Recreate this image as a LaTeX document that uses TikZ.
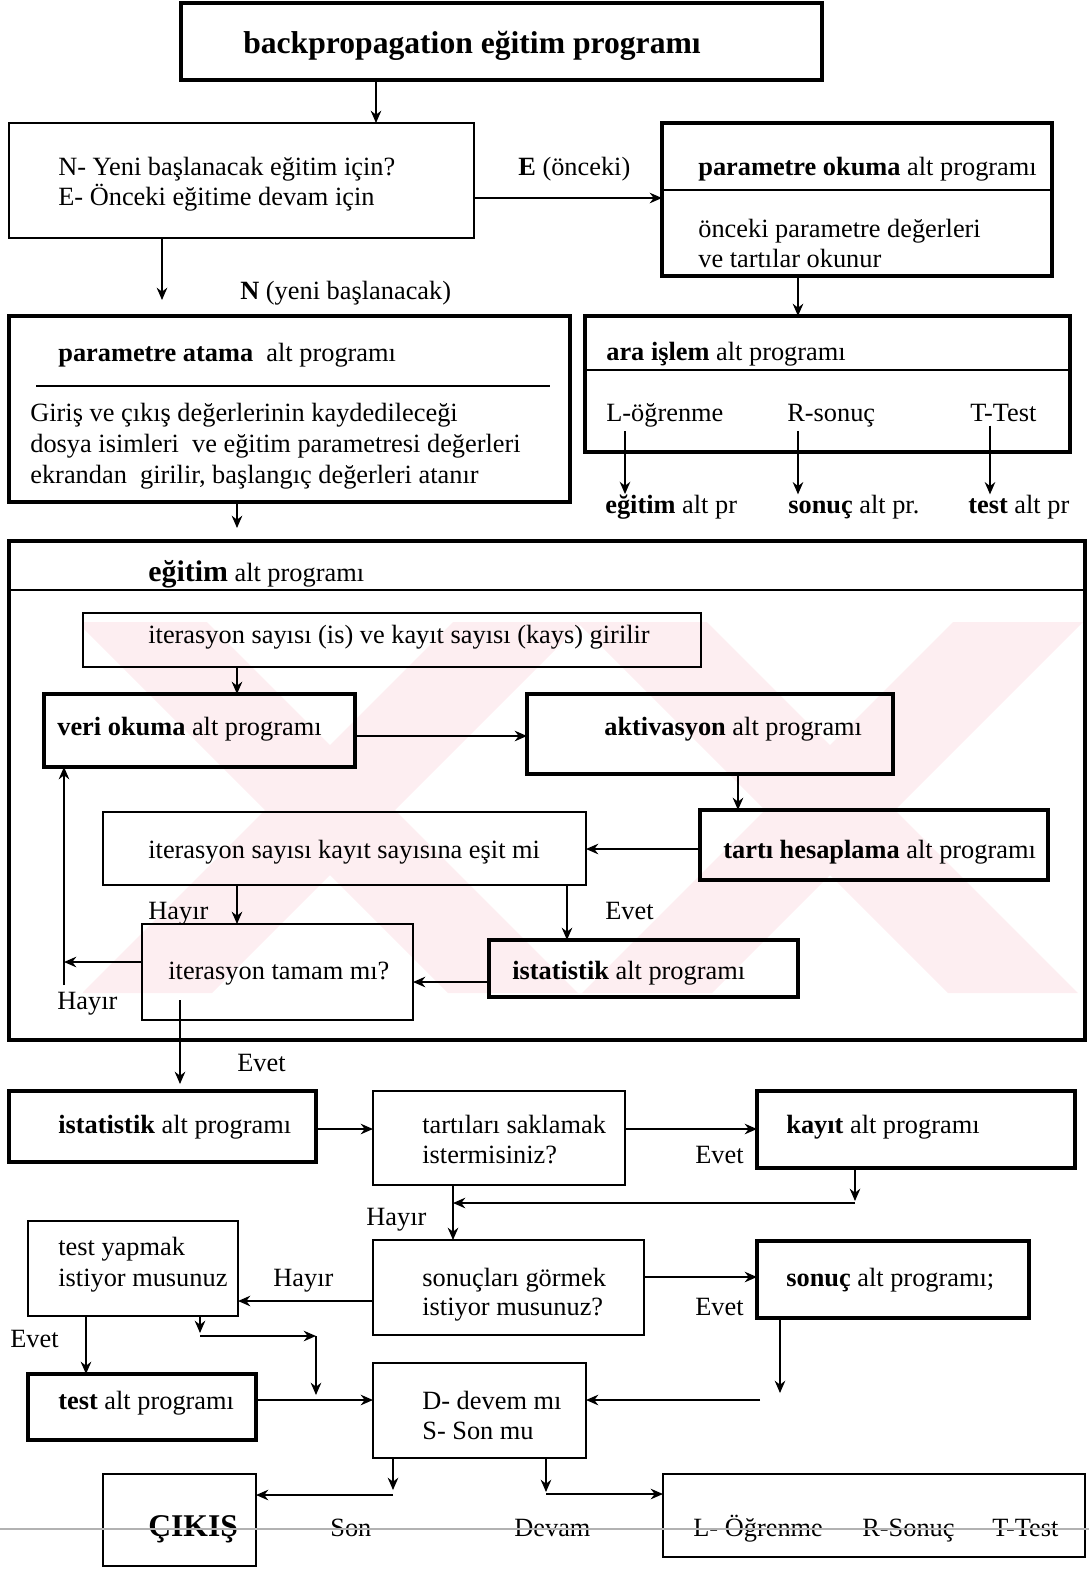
\documentclass[tikz,border=0pt]{standalone}
\usepackage{fontspec}
\setmainfont{Liberation Serif}
\usetikzlibrary{arrows.meta, calc}
\definecolor{wmpink}{RGB}{253,238,241}
\tikzset{
    >={Stealth[length=7pt,width=6pt]}, % small filled arrow heads
    every node/.style={font=\fontsize{15}{17}\selectfont},
    box/.style={draw, line width=1pt, inner sep=0pt, outer sep=0pt, anchor=north west}, % plain frame
    thickbox/.style={box, line width=2.6pt}, % frame of a sub program
    wh/.style 2 args={minimum width=#1*0.02cm, minimum height=#2*0.02cm},
    txt/.style={inner sep=0pt, anchor=base west, yshift=-0.06cm},
    arrow/.style={->, line width=1pt},
}

\begin{document}
\begin{tikzpicture}[x=0.02cm, y=-0.02cm]
    \useasboundingbox (0,0) rectangle (1089,1570);

    % watermark
    \begin{scope}
        \clip (83,622) rectangle (1085,993);
        \fill[wmpink] (77,622) -- (207,622) -- (578,993) -- (448,993) -- cycle;
        \fill[wmpink] (453,622) -- (583,622) -- (212,993) -- (82,993) -- cycle;
        \fill[wmpink] (577,622) -- (707,622) -- (1078,993) -- (948,993) -- cycle;
        \fill[wmpink] (953,622) -- (1083,622) -- (712,993) -- (582,993) -- cycle;
    \end{scope}

    % boxes
    \node[thickbox, wh={641}{77}] (baslik) at (181,3) {};
    \node[box, wh={465}{115}] (ne) at (9,123) {};
    \node[thickbox, wh={390}{153}] (okuma) at (662,123) {};
    \node[thickbox, wh={561}{186}] (atama) at (9,316) {};
    \node[thickbox, wh={485}{136}] (ara) at (585,316) {};
    \node[thickbox, wh={1076}{499}] (egitim) at (9,541) {};
    \node[box, wh={618}{54}] (girilir) at (83,613) {};
    \node[thickbox, wh={311}{73}] (veri) at (44,694) {};
    \node[thickbox, wh={366}{80}] (aktiv) at (527,694) {};
    \node[thickbox, wh={348}{70}] (tarti) at (700,810) {};
    \node[box, wh={483}{73}] (esit) at (103,812) {};
    \node[box, wh={271}{96}] (tamam) at (142,924) {};
    \node[thickbox, wh={309}{57}] (ist1) at (489,940) {};
    \node[thickbox, wh={307}{71}] (ist2) at (9,1091) {};
    \node[box, wh={252}{94}] (sakla) at (373,1091) {};
    \node[thickbox, wh={318}{77}] (kayit) at (757,1091) {};
    \node[box, wh={210}{95}] (testq) at (28,1221) {};
    \node[box, wh={271}{95}] (sonucq) at (373,1240) {};
    \node[thickbox, wh={272}{77}] (sonuc) at (757,1241) {};
    \node[thickbox, wh={228}{66}] (testalt) at (28,1374) {};
    \node[box, wh={213}{95}] (dson) at (373,1363) {};
    \node[box, wh={153}{92}] (cikis) at (103,1474) {};
    \node[box, wh={422}{83}] (secim) at (663,1474) {};

    % dividers
    \draw[line width=1pt] (okuma.west |- 0,190) -- (okuma.east |- 0,190);
    \draw[line width=1pt] (36,386) -- (550,386);
    \draw[line width=1pt] (ara.west |- 0,370) -- (ara.east |- 0,370);
    \draw[line width=1pt] (egitim.west |- 0,590) -- (egitim.east |- 0,590);

    % texts
    \node[txt, anchor=base, font=\bfseries\fontsize{18}{20}\selectfont] (baslik-t) at (472,50) {backpropagation eğitim programı};
    \node[txt] (ne-1) at (58,172) {N- Yeni başlanacak eğitim için?};
    \node[txt] (ne-2) at (58,202) {E- Önceki eğitime devam için};
    \node[txt] (e-lbl) at (518,172) {\textbf{E} (önceki)};
    \node[txt] (n-lbl) at (240,296) {\textbf{N} (yeni başlanacak)};
    \node[txt] (okuma-t) at (698,172) {\textbf{parametre okuma} alt programı};
    \node[txt] (okuma-1) at (698,234) {önceki parametre değerleri};
    \node[txt] (okuma-2) at (698,264) {ve tartılar okunur};
    \node[txt] (atama-t) at (58,358) {\textbf{parametre atama}\ \ alt programı};
    \node[txt] (atama-1) at (30,418) {Giriş ve çıkış değerlerinin kaydedileceği};
    \node[txt] (atama-2) at (30,449) {dosya isimleri\ \ ve eğitim parametresi değerleri};
    \node[txt] (atama-3) at (30,480) {ekrandan\ \ girilir, başlangıç değerleri atanır};
    \node[txt] (ara-t) at (606,357) {\textbf{ara işlem} alt programı};
    \node[txt] (ara-l) at (606,418) {L-öğrenme};
    \node[txt] (ara-r) at (787,418) {R-sonuç};
    \node[txt] (ara-tt) at (970,418) {T-Test};
    \node[txt] (pr-l) at (605,510) {\textbf{eğitim} alt pr};
    \node[txt] (pr-r) at (788,510) {\textbf{sonuç} alt pr.};
    \node[txt] (pr-t) at (968,510) {\textbf{test} alt pr};
    \node[txt] (egitim-t) at (148,578) {{\bfseries\fontsize{17}{19}\selectfont eğitim} alt programı};
    \node[txt] (girilir-t) at (148,640) {iterasyon sayısı (is) ve kayıt sayısı (kays) girilir};
    \node[txt] (veri-t) at (57,732) {\textbf{veri okuma} alt programı};
    \node[txt] (aktiv-t) at (604,732) {\textbf{aktivasyon} alt programı};
    \node[txt] (tarti-t) at (723,855) {\textbf{tartı hesaplama} alt programı};
    \node[txt] (esit-t) at (148,855) {iterasyon sayısı kayıt sayısına eşit mi};
    \node[txt] (hayir-1) at (148,916) {Hayır};
    \node[txt] (evet-1) at (605,916) {Evet};
    \node[txt] (tamam-t) at (168,976) {iterasyon tamam mı?};
    \node[txt] (ist1-t) at (512,976) {\textbf{istatistik} alt programı};
    \node[txt] (hayir-2) at (57,1006) {Hayır};
    \node[txt] (evet-2) at (237,1068) {Evet};
    \node[txt] (ist2-t) at (58,1130) {\textbf{istatistik} alt programı};
    \node[txt] (sakla-1) at (422,1130) {tartıları saklamak};
    \node[txt] (sakla-2) at (422,1160) {istermisiniz?};
    \node[txt] (evet-3) at (695,1160) {Evet};
    \node[txt] (kayit-t) at (786,1130) {\textbf{kayıt} alt programı};
    \node[txt] (hayir-3) at (366,1222) {Hayır};
    \node[txt] (testq-1) at (58,1252) {test yapmak};
    \node[txt] (testq-2) at (58,1283) {istiyor musunuz};
    \node[txt] (hayir-4) at (273,1283) {Hayır};
    \node[txt] (sonucq-1) at (422,1283) {sonuçları görmek};
    \node[txt] (sonucq-2) at (422,1312) {istiyor musunuz?};
    \node[txt] (evet-4) at (695,1312) {Evet};
    \node[txt] (sonuc-t) at (786,1283) {\textbf{sonuç} alt programı;};
    \node[txt] (evet-5) at (10,1344) {Evet};
    \node[txt] (testalt-t) at (58,1406) {\textbf{test} alt programı};
    \node[txt] (dson-1) at (422,1406) {D- devem mı};
    \node[txt] (dson-2) at (422,1436) {S- Son mu};
    \node[txt, font=\bfseries\fontsize{18}{20}\selectfont] (cikis-t) at (148,1533) {ÇIKIŞ};
    \node[txt] (son-lbl) at (330,1533) {Son};
    \node[txt] (devam-lbl) at (514,1533) {Devam};
    \node[txt] (secim-1) at (693,1533) {L- Öğrenme};
    \node[txt] (secim-2) at (862,1533) {R-Sonuç};
    \node[txt] (secim-3) at (992,1533) {T-Test};

    % free ends
    \coordinate (geri-ust) at (64,962);
    \coordinate (geri-alt) at (64,985);
    \coordinate (evet-bas) at (180,1000);
    \coordinate (k-1) at (855,1201);
    \coordinate (k-2) at (855,1203);
    \coordinate (k-3) at (453,1203);
    \coordinate (s-1) at (780,1393);
    \coordinate (s-2) at (760,1400);
    \coordinate (t-1) at (200,1333);
    \coordinate (t-2) at (200,1336);
    \coordinate (t-3) at (316,1336);
    \coordinate (t-4) at (316,1395);
    \coordinate (d-1) at (393,1490);
    \coordinate (d-2) at (393,1495);
    \coordinate (d-3) at (546,1492);
    \coordinate (d-4) at (546,1494);

    % connectors
    \draw[arrow] (baslik.south -| 376,0) -- (ne.north -| 376,0);
    \draw[arrow] (ne.east |- 0,198) -- (okuma.west |- 0,198);
    \draw[arrow, shorten >=0.32cm] (ne.south -| 162,0) -- (atama.north -| 162,0);
    \draw[arrow] (okuma.south -| 798,0) -- (ara.north -| 798,0);
    \draw[arrow, shorten >=0.26cm] (atama.south -| 237,0) -- (egitim.north -| 237,0);
    \foreach \a/\b/\x in {ara-l/pr-l/625, ara-r/pr-r/798, ara-tt/pr-t/990}
        \draw[arrow, shorten <=0.08cm] (\a.south -| \x,0) -- (\b.north -| \x,0);

    \draw[arrow] (girilir.south -| 237,0) -- (veri.north -| 237,0);
    \draw[arrow] (veri.east |- 0,736) -- (aktiv.west |- 0,736);
    \draw[arrow] (aktiv.south -| 738,0) -- (tarti.north -| 738,0);
    \draw[arrow] (tarti.west |- 0,849) -- (esit.east |- 0,849);
    \draw[arrow] (esit.south -| 237,0) -- (tamam.north -| 237,0);
    \draw[arrow] (esit.south -| 567,0) -- (ist1.north -| 567,0);
    \draw[arrow] (ist1.west |- 0,982) -- (tamam.east |- 0,982);
    \draw[arrow] (tamam.west |- geri-ust) -- (geri-ust);
    \draw[arrow] (geri-alt) -- (veri.south -| geri-alt);
    \draw[arrow, shorten >=0.14cm] (evet-bas) -- (ist2.north -| evet-bas);

    \draw[arrow] (ist2.east |- 0,1129) -- (sakla.west |- 0,1129);
    \draw[arrow] (sakla.east |- 0,1129) -- (kayit.west |- 0,1129);
    \draw[arrow] (kayit.south -| k-1) -- (k-1);
    \draw[arrow] (k-2) -- (k-3);
    \draw[arrow] (sakla.south -| 453,0) -- (sonucq.north -| 453,0);
    \draw[arrow] (sonucq.west |- 0,1301) -- (testq.east |- 0,1301);
    \draw[arrow] (sonucq.east |- 0,1277) -- (sonuc.west |- 0,1277);
    \draw[arrow] (sonuc.south -| s-1) -- (s-1);
    \draw[arrow] (s-2) -- (dson.east |- s-2);
    \draw[arrow] (testq.south -| 86,0) -- (testalt.north -| 86,0);
    \draw[arrow] (testq.south -| t-1) -- (t-1);
    \draw[arrow] (t-2) -- (t-3);
    \draw[arrow] (t-3) -- (t-4);
    \draw[arrow] (testalt.east |- 0,1400) -- (dson.west |- 0,1400);
    \draw[arrow] (dson.south -| d-1) -- (d-1);
    \draw[arrow] (d-2) -- (cikis.east |- d-2);
    \draw[arrow] (dson.south -| d-3) -- (d-3);
    \draw[arrow] (d-4) -- (secim.west |- d-4);

    % scan line
    \draw[gray!60, line width=1pt] (0,1529) -- (1089,1529);
\end{tikzpicture}
\end{document}
